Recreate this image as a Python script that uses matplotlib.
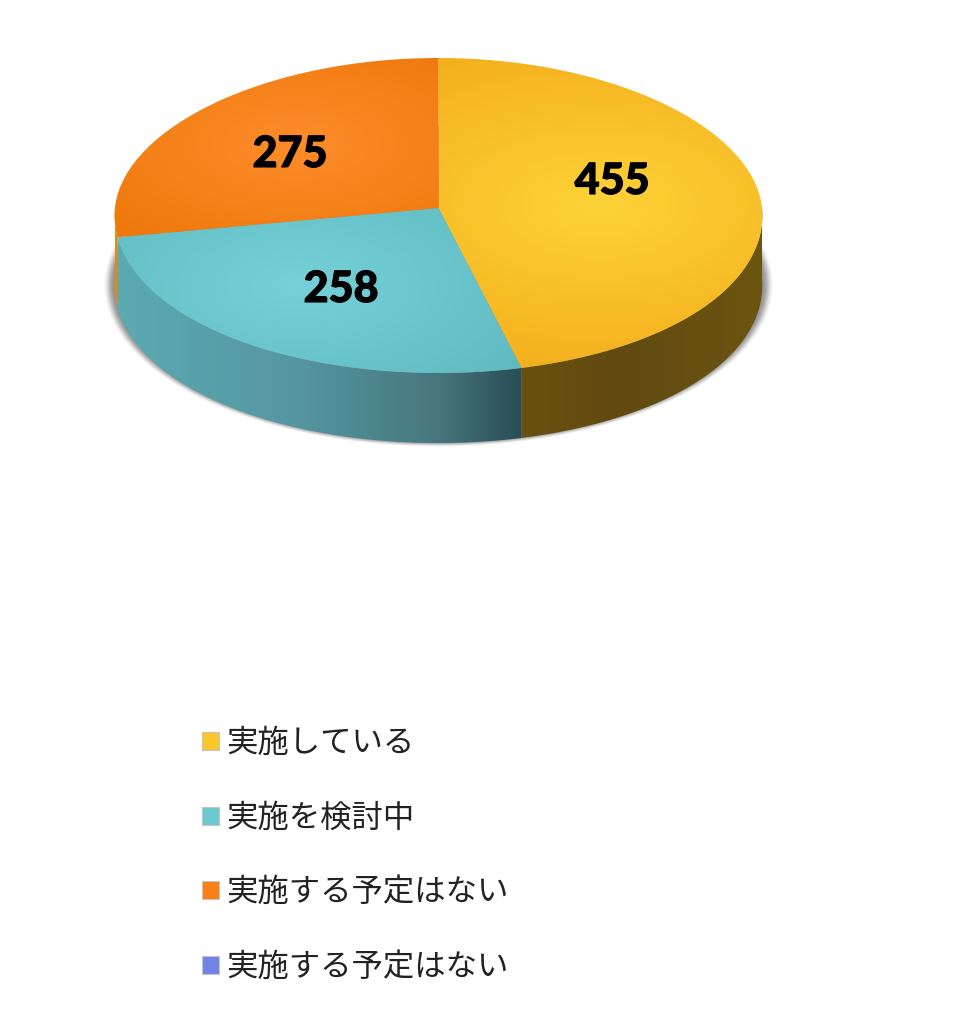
import numpy as np
import matplotlib
matplotlib.use("Agg")
import matplotlib.pyplot as plt
import matplotlib.patheffects as pe
from matplotlib.colors import to_rgb
from matplotlib.patches import Polygon, Rectangle

# --------------------------
# datos
# --------------------------
etiquetas = ["実施している", "実施を検討中", "実施する予定はない", "実施する予定はない"]
valores = [455, 258, 275, 0]

# centro y borde del degradado de cada sector
col_centro = ["#FDD338", "#75D1D7", "#FD8C2A", "#7F92EE"]
col_borde = ["#F3AE1C", "#5FBAC2", "#EC7506", "#6F80E0"]
col_leyenda = ["#FBC72B", "#6CC8CF", "#F98014", "#7283E6"]

# degradado radial de cada sector: cx, cy, a, b
radial = [(600, 205, 320, 175), (300, 285, 270, 135), (296, 145, 290, 140)]

# degradado de la pared lateral: x y color
pared_x = [[521, 620, 762], [117, 300, 440, 521], [115, 120]]
pared_c = [["#6A510F", "#614A10", "#6C5511"],
           ["#5CAAB2", "#5596A0", "#46767C", "#2A4D55"],
           ["#E08A10", "#E08A10"]]

# geometría en píxeles (elipse con algo de perspectiva)
W, H = 963, 1024
cx, cy, rx = 438.5, 208, 323.5
ry_atras, ry_frente = 150, 165
persp = 0.045
alto = 70

pos_valor = [(612, 181), (341, 289), (290, 154)]
leyenda_y = [741, 816, 890, 965]

fig = plt.figure(figsize=(W / 100, H / 100), dpi=100)
ax = fig.add_axes([0, 0, 1, 1])
ax.set_xlim(0, W)
ax.set_ylim(H, 0)
ax.axis("off")

xx, yy = np.meshgrid(np.arange(W) + 0.5, np.arange(H) + 0.5)


def punto(theta, dy=0):
    t = np.radians(theta)
    c = np.cos(t)
    x = cx + rx * np.sin(t) * (1 - persp * c)
    y = cy - (ry_atras if c > 0 else ry_frente) * c + dy
    return x, y


def mezcla(t, c0, c1):
    c0, c1 = np.array(to_rgb(c0)), np.array(to_rgb(c1))
    return c0 + (c1 - c0) * t[..., None]


def img_recortada(img, poly, z):
    im = ax.imshow(img, extent=(0, W, H, 0), origin="upper", zorder=z,
                   interpolation="bilinear", aspect="auto")
    parche = Polygon(poly, closed=True, transform=ax.transData, fc="none", ec="none")
    ax.add_patch(parche)
    im.set_clip_path(parche)


# sombra difusa bajo la tarta
r = np.sqrt(((xx - 438.5) / 329) ** 2 + ((yy - 285) / 159) ** 2)
alfa = np.clip((1.02 - r) / 0.035, 0, 1)
alfa = alfa * alfa * (3 - 2 * alfa) * 0.6
sombra = np.zeros((H, W, 4))
sombra[..., :3] = 0.3
sombra[..., 3] = alfa
ax.imshow(sombra, extent=(0, W, H, 0), origin="upper", zorder=1, aspect="auto")

# ángulos desde arriba, sentido horario
total = sum(valores)
ang = np.cumsum([0] + [v / total * 360 for v in valores])

# paredes laterales
for i in range(3):
    a0, a1 = max(ang[i], 90), min(ang[i + 1], 270)
    if a1 <= a0:
        continue
    th = np.linspace(a0, a1, 200)
    arriba = [punto(t) for t in th]
    abajo = [punto(t, alto) for t in th[::-1]]
    rgb = np.array([to_rgb(c) for c in pared_c[i]])
    img = np.zeros((H, W, 3))
    for k in range(3):
        img[..., k] = np.interp(xx, pared_x[i], rgb[:, k])
    img_recortada(img, arriba + abajo, 2)

# cara superior
for i in range(3):
    th = np.linspace(ang[i], ang[i + 1], 300)
    poly = [(cx, cy)] + [punto(t) for t in th]
    gx, gy, a, b = radial[i]
    t = np.clip(np.sqrt(((xx - gx) / a) ** 2 + ((yy - gy) / b) ** 2), 0, 1)
    img_recortada(mezcla(t, col_centro[i], col_borde[i]), poly, 3)
    x, y = pos_valor[i]
    txt = ax.text(x, y, str(valores[i]), ha="center", va="center", zorder=5,
                  fontsize=31, fontweight="black", family="Lato", color="black")
    txt.set_path_effects([pe.withStroke(linewidth=0.8, foreground="black")])

# leyenda
for i in range(4):
    y = leyenda_y[i]
    ax.add_patch(Rectangle((202, y - 9), 17, 18, fc=col_leyenda[i],
                           ec="#C4C4C4", lw=0.8, zorder=3))
    ax.text(226, y + 2, etiquetas[i], ha="left", va="center", fontsize=22.6,
            family=["Noto Sans CJK JP", "DejaVu Sans"], color="#222222")

fig.savefig("out.png", dpi=100, facecolor="white")
